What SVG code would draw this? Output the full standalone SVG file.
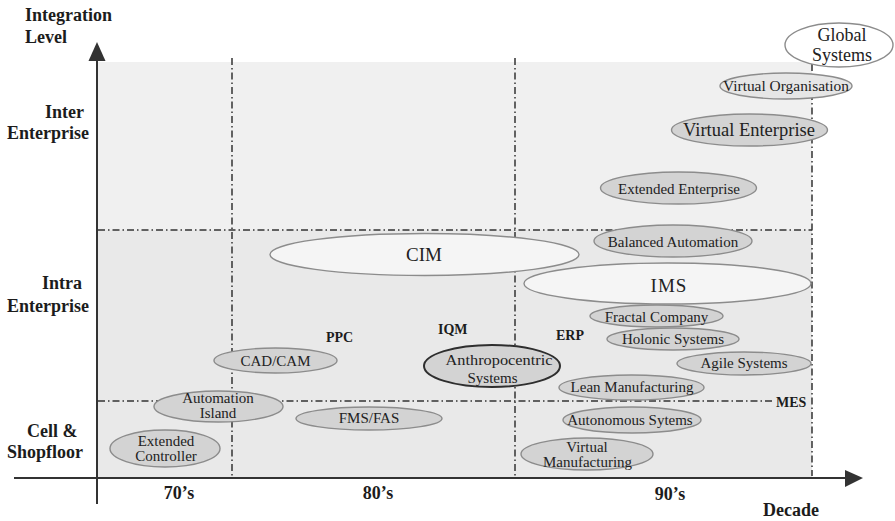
<svg xmlns="http://www.w3.org/2000/svg" width="895" height="521" viewBox="0 0 895 521">
  <defs>
    <style>
      .ell { fill: #d3d3d3; stroke: #8c8c8c; stroke-width: 1.4; }
      .pale { fill: #f5f5f5; }
      .mid { fill: #e6e6e6; }
      .white { fill: #ffffff; }
      .strong { stroke: #2e2e2e; stroke-width: 2; }
      .t { font-family: "Liberation Serif", "Times New Roman", serif; font-size: 15px; fill: #222; text-anchor: middle; }
      .big { font-size: 18px; }
      .ax { font-family: "Liberation Serif", "Times New Roman", serif; font-weight: bold; font-size: 18px; fill: #1c1c1c; }
      .tag { font-family: "Liberation Serif", "Times New Roman", serif; font-weight: bold; font-size: 14px; fill: #1c1c1c; }
      .mid-a { text-anchor: middle; }
      .grid { stroke: #333; stroke-width: 1.5; fill: none; stroke-dasharray: 7 3 1.5 3; }
      .axis { stroke: #333; stroke-width: 2; fill: none; }
      .head { fill: #333; }
    </style>
  </defs>

  <rect width="895" height="521" fill="#ffffff"/>

  <!-- plot background bands -->
  <rect x="98" y="62" width="714" height="168" fill="#f0f0f0"/>
  <rect x="98" y="230" width="714" height="248" fill="#e9e9e9"/>

  <!-- axes and grid -->
  <g id="connectors">
    <line class="grid" x1="232" y1="58" x2="232" y2="476"/>
    <line class="grid" x1="515" y1="58" x2="515" y2="476"/>
    <line class="grid" x1="812" y1="64" x2="812" y2="476"/>
    <line class="grid" x1="98" y1="230" x2="812" y2="230"/>
    <line class="grid" x1="98" y1="401" x2="773" y2="401"/>
    <line class="axis" x1="97" y1="58" x2="97" y2="504"/>
    <polygon class="head" points="97,42 88.5,61 105.5,61"/>
    <line class="axis" x1="14" y1="478" x2="847" y2="478"/>
    <polygon class="head" points="863,478 845,470 845,487"/>
  </g>

  <!-- axis titles -->
  <g id="axis-labels">
    <text class="ax" x="25" y="21">Integration</text>
    <text class="ax" x="25" y="43">Level</text>
    <text class="ax" x="45" y="118">Inter</text>
    <text class="ax" x="7" y="139">Enterprise</text>
    <text class="ax" x="42" y="289">Intra</text>
    <text class="ax" x="7" y="312">Enterprise</text>
    <text class="ax" x="27" y="437">Cell &amp;</text>
    <text class="ax" x="7" y="458">Shopfloor</text>
    <text class="ax mid-a" x="179" y="499">70’s</text>
    <text class="ax mid-a" x="378" y="499">80’s</text>
    <text class="ax mid-a" x="670" y="500">90’s</text>
    <text class="ax mid-a" x="791" y="516">Decade</text>
  </g>

  <!-- plain labels -->
  <g id="ppc"><text class="tag" x="326" y="342">PPC</text></g>
  <g id="iqm"><text class="tag" x="438" y="334">IQM</text></g>
  <g id="erp"><text class="tag" x="556" y="340">ERP</text></g>
  <g id="mes"><text class="tag" x="776" y="407">MES</text></g>

  <!-- nodes -->
  <g id="global-systems">
    <ellipse class="ell white" cx="839" cy="45" rx="54" ry="22"/>
    <text class="t big" x="842" y="41">Global</text>
    <text class="t big" x="842" y="61">Systems</text>
  </g>
  <g id="virtual-organisation">
    <ellipse class="ell mid" cx="786" cy="86" rx="66" ry="13"/>
    <text class="t" x="786" y="91" textLength="126" lengthAdjust="spacingAndGlyphs">Virtual Organisation</text>
  </g>
  <g id="virtual-enterprise">
    <ellipse class="ell" cx="749.5" cy="130" rx="78" ry="16"/>
    <text class="t" x="749" y="136" style="font-size:18.5px">Virtual Enterprise</text>
  </g>
  <g id="extended-enterprise">
    <ellipse class="ell" cx="678.5" cy="188" rx="78" ry="16"/>
    <text class="t" x="679" y="194">Extended Enterprise</text>
  </g>
  <g id="balanced-automation">
    <ellipse class="ell" cx="673" cy="241" rx="79" ry="16"/>
    <text class="t" x="673" y="247">Balanced Automation</text>
  </g>
  <g id="cim">
    <ellipse class="ell pale" cx="424.5" cy="254.5" rx="154.5" ry="21"/>
    <text class="t big" x="424" y="261" style="font-size:19px">CIM</text>
  </g>
  <g id="ims">
    <ellipse class="ell pale" cx="667.5" cy="283.5" rx="143.5" ry="20.5"/>
    <text class="t big" x="669" y="292" style="font-size:19px;letter-spacing:1px">IMS</text>
  </g>
  <g id="fractal-company">
    <ellipse class="ell" cx="656.5" cy="316" rx="66.5" ry="11"/>
    <text class="t" x="656.5" y="322">Fractal Company</text>
  </g>
  <g id="holonic-systems">
    <ellipse class="ell" cx="673" cy="339" rx="66" ry="11"/>
    <text class="t" x="673" y="344">Holonic Systems</text>
  </g>
  <g id="agile-systems">
    <ellipse class="ell" cx="744" cy="363.5" rx="67" ry="11.5"/>
    <text class="t" x="744" y="368">Agile Systems</text>
  </g>
  <g id="lean-manufacturing">
    <ellipse class="ell" cx="631.5" cy="387.5" rx="72.5" ry="12.5"/>
    <text class="t" x="632" y="392">Lean Manufacturing</text>
  </g>
  <g id="autonomous-systems">
    <ellipse class="ell" cx="632" cy="420" rx="69" ry="13"/>
    <text class="t" x="630" y="425">Autonomous Sytems</text>
  </g>
  <g id="virtual-manufacturing">
    <ellipse class="ell" cx="587" cy="454" rx="66" ry="16"/>
    <text class="t" x="587" y="452">Virtual</text>
    <text class="t" x="587.5" y="467">Manufacturing</text>
  </g>
  <g id="anthropocentric-systems">
    <ellipse class="ell strong" cx="492" cy="366" rx="68" ry="21"/>
    <text class="t" x="499" y="365" textLength="107" lengthAdjust="spacingAndGlyphs">Anthropocentric</text>
    <text class="t" x="492.5" y="383">Systems</text>
  </g>
  <g id="cad-cam">
    <ellipse class="ell" cx="275.5" cy="360.5" rx="61.5" ry="12.5"/>
    <text class="t" x="275.5" y="366">CAD/CAM</text>
  </g>
  <g id="automation-island">
    <ellipse class="ell" cx="218.5" cy="406.5" rx="64.5" ry="15.5"/>
    <text class="t" x="218" y="403">Automation</text>
    <text class="t" x="218" y="418">Island</text>
  </g>
  <g id="fms-fas">
    <ellipse class="ell" cx="369" cy="418.5" rx="73" ry="11.5"/>
    <text class="t" x="369" y="423">FMS/FAS</text>
  </g>
  <g id="extended-controller">
    <ellipse class="ell" cx="165" cy="448.5" rx="55" ry="18.5"/>
    <text class="t" x="166" y="446">Extended</text>
    <text class="t" x="166" y="461">Controller</text>
  </g>
</svg>
